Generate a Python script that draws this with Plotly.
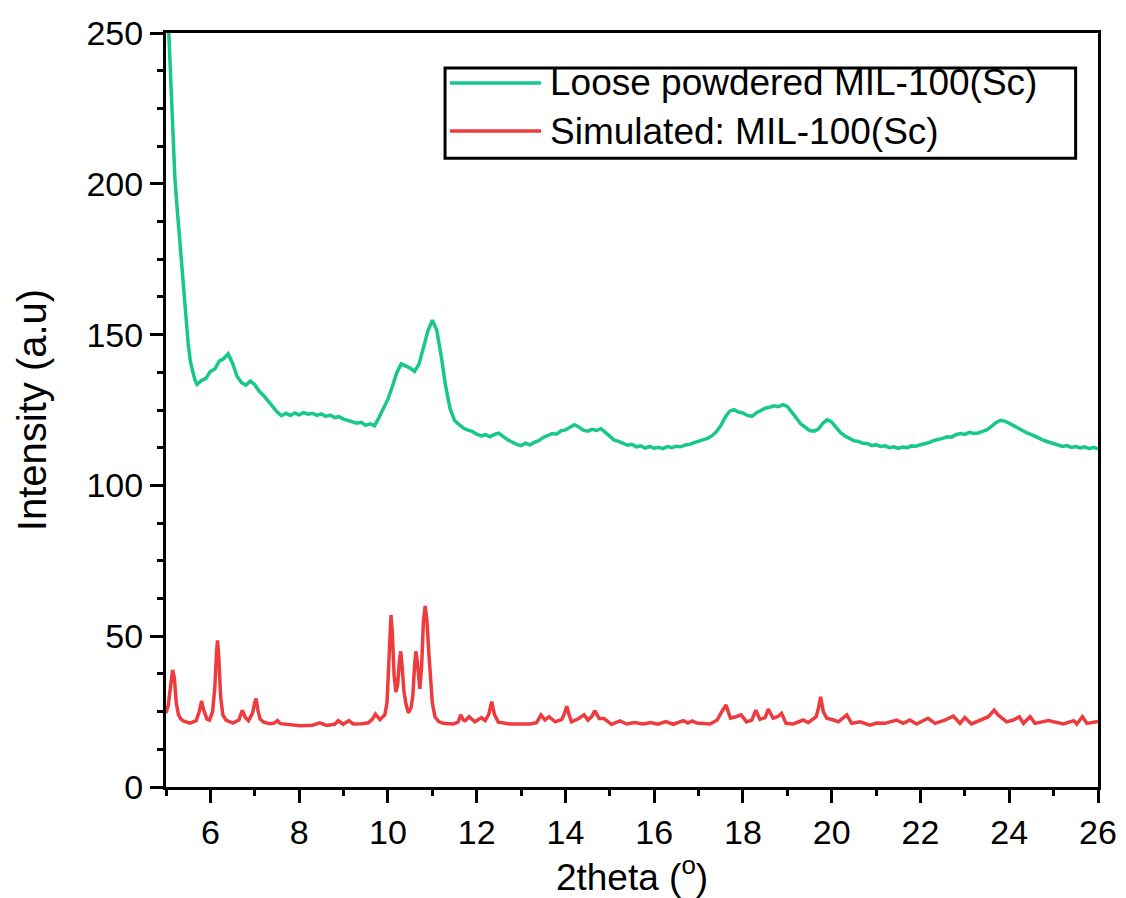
import plotly.graph_objects as go

# ---------------- data ----------------
x_loose = [
    5.0, 5.05, 5.1, 5.15, 5.2, 5.25, 5.3, 5.35, 5.4, 5.45, 5.5, 5.55, 5.6, 5.65, 5.7, 5.8, 5.9,
    6.0, 6.1, 6.2, 6.3, 6.4, 6.5, 6.6, 6.7, 6.8, 6.9,
    7.0, 7.1, 7.2, 7.3, 7.4, 7.5, 7.6, 7.7, 7.8, 7.9,
    8.0, 8.1, 8.2, 8.3, 8.4, 8.5, 8.6, 8.7, 8.8, 8.9,
    9.0, 9.1, 9.2, 9.3, 9.4, 9.5, 9.6, 9.7, 9.8, 9.9,
    10.0, 10.1, 10.2, 10.3, 10.4, 10.5, 10.6, 10.7, 10.8, 10.9,
    11.0, 11.1, 11.2, 11.3, 11.4, 11.5, 11.6, 11.7, 11.8, 11.9,
    12.0, 12.1, 12.2, 12.3, 12.4, 12.5, 12.6, 12.7, 12.8, 12.9,
    13.0, 13.1, 13.2, 13.3, 13.4, 13.5, 13.6, 13.7, 13.8, 13.9,
    14.0, 14.1, 14.2, 14.3, 14.4, 14.5, 14.6, 14.7, 14.8, 14.9,
    15.0, 15.1, 15.2, 15.3, 15.4, 15.5, 15.6, 15.7, 15.8, 15.9,
    16.0, 16.1, 16.2, 16.3, 16.4, 16.5, 16.6, 16.7, 16.8, 16.9,
    17.0, 17.1, 17.2, 17.3, 17.4, 17.5, 17.6, 17.7, 17.8, 17.9,
    18.0, 18.1, 18.2, 18.3, 18.4, 18.5, 18.6, 18.7, 18.8, 18.9,
    19.0, 19.1, 19.2, 19.3, 19.4, 19.5, 19.6, 19.7, 19.8, 19.9,
    20.0, 20.1, 20.2, 20.3, 20.4, 20.5, 20.6, 20.7, 20.8, 20.9,
    21.0, 21.1, 21.2, 21.3, 21.4, 21.5, 21.6, 21.7, 21.8, 21.9,
    22.0, 22.1, 22.2, 22.3, 22.4, 22.5, 22.6, 22.7, 22.8, 22.9,
    23.0, 23.1, 23.2, 23.3, 23.4, 23.5, 23.6, 23.7, 23.8, 23.9,
    24.0, 24.1, 24.2, 24.3, 24.4, 24.5, 24.6, 24.7, 24.8, 24.9,
    25.0, 25.1, 25.2, 25.3, 25.4, 25.5, 25.6, 25.7, 25.8, 25.9,
    26.0,
]
y_loose = [
    272, 255, 238, 218, 202, 192, 183, 174, 165, 155, 147, 141, 137.5, 135.0, 133.5, 134.8, 135.5,
    137.8, 138.6, 141.2, 142.0, 143.6, 140.5, 136.2, 134.1, 133.2, 134.6,
    133.4, 131.2, 129.8, 128.0, 126.2, 124.4, 123.1, 123.9, 123.2, 124.0,
    123.4, 124.1, 123.6, 123.9, 123.2, 123.7, 122.9, 123.3, 122.5, 122.8,
    122.0, 121.6, 121.2, 120.6, 120.9, 119.9, 120.4, 119.8, 122.5, 125.8,
    128.6, 132.8, 137.4, 140.3, 139.6, 138.9, 137.8, 140.2, 145.6, 151.2,
    154.8, 151.5, 143.0, 133.0, 125.5, 121.6, 120.2, 119.0, 118.3, 117.9,
    117.0, 116.4, 116.8, 116.1, 116.9, 117.3, 116.2, 115.1, 114.4, 113.6,
    113.2, 114.0, 113.4, 114.3, 114.8, 115.9, 116.5, 117.2, 117.0, 118.1,
    118.4, 119.2, 120.1, 119.4, 118.3, 118.0, 118.6, 118.2, 118.8, 117.6,
    116.3, 115.0, 114.6, 114.0, 113.3, 113.6, 112.8, 113.1, 112.4, 112.9,
    112.3, 112.6, 112.2, 112.9, 112.5, 113.0, 112.8, 113.4, 113.6, 114.2,
    114.6, 115.0, 115.6, 116.4, 117.8, 119.8, 122.6, 124.6, 125.1, 124.3,
    124.0, 123.2, 122.9, 124.0, 124.8, 125.6, 125.9, 126.4, 126.1, 126.8,
    126.2, 124.5, 122.4, 120.4, 119.2, 118.2, 118.0, 118.7, 120.6, 121.8,
    121.0, 119.2, 117.5, 116.4, 115.6, 114.8, 114.6, 114.0, 113.9, 113.2,
    113.5, 112.9, 113.1, 112.5, 112.8, 112.3, 112.7, 112.5, 113.1, 113.0,
    113.5, 113.8, 114.2, 114.9, 115.2, 115.6, 116.1, 116.0, 116.8, 117.2,
    116.9, 117.6, 117.2, 117.4, 117.9, 118.5, 119.6, 120.8, 121.6, 121.3,
    120.6, 119.8, 118.8, 118.2, 117.4, 116.8, 116.1, 115.3, 114.8, 114.3,
    113.8, 113.5, 112.9, 113.2, 112.6, 112.9, 112.4, 112.8, 112.2, 112.6,
    112.1,
]

x_sim = [
    5.00, 5.05, 5.10, 5.15, 5.19, 5.23, 5.28, 5.33, 5.40, 5.54,
    5.68, 5.75, 5.80, 5.85, 5.92, 5.98, 6.05, 6.10, 6.14, 6.16,
    6.19, 6.23, 6.28, 6.35, 6.51, 6.64, 6.72, 6.79, 6.86, 6.95,
    7.00, 7.03, 7.07, 7.12, 7.20, 7.34, 7.44, 7.51, 7.58, 7.76,
    8.02, 8.30, 8.47, 8.62, 8.80, 8.88, 8.99, 9.12, 9.22, 9.40,
    9.56, 9.65, 9.72, 9.82, 9.93, 9.98, 10.02, 10.05, 10.07, 10.10,
    10.14, 10.18, 10.22, 10.26, 10.29, 10.32, 10.36, 10.40, 10.46, 10.52,
    10.56, 10.60, 10.63, 10.66, 10.70, 10.72, 10.76, 10.80, 10.84, 10.88,
    10.92, 10.96, 11.00, 11.06, 11.15, 11.25, 11.47, 11.58, 11.64, 11.70,
    11.74, 11.83, 11.96, 12.11, 12.19, 12.27, 12.34, 12.40, 12.49, 12.75,
    13.20, 13.35, 13.45, 13.54, 13.63, 13.77, 13.92, 13.98, 14.03, 14.08,
    14.14, 14.30, 14.42, 14.51, 14.60, 14.66, 14.72, 14.76, 14.87, 15.04,
    15.23, 15.38, 15.55, 15.76, 15.92, 16.09, 16.26, 16.43, 16.66, 16.76,
    16.86, 16.96, 17.26, 17.42, 17.52, 17.62, 17.68, 17.72, 17.84, 17.96,
    18.08, 18.20, 18.29, 18.38, 18.50, 18.57, 18.68, 18.78, 18.87, 18.97,
    19.13, 19.36, 19.47, 19.65, 19.70, 19.75, 19.81, 19.89, 20.04, 20.15,
    20.34, 20.45, 20.64, 20.86, 21.01, 21.20, 21.46, 21.61, 21.76, 21.91,
    22.17, 22.33, 22.55, 22.74, 22.89, 23.00, 23.15, 23.34, 23.53, 23.66,
    23.75, 23.94, 24.09, 24.23, 24.32, 24.47, 24.58, 24.88, 25.22, 25.45,
    25.52, 25.65, 25.75, 26.00,
]
y_sim = [
    24.5, 27.0, 33.0, 38.8, 36.0, 28.0, 24.0, 22.6, 21.8, 21.2,
    22.0, 25.0, 28.5, 25.5, 22.6, 22.2, 25.0, 33.0, 45.0, 48.6,
    43.0, 30.0, 24.0, 22.2, 21.2, 22.2, 25.4, 23.0, 22.0, 24.5,
    28.0, 29.3, 25.5, 22.5, 21.5, 21.0, 21.2, 22.0, 21.0, 20.8,
    20.3, 20.5, 21.3, 20.4, 20.8, 22.0, 20.8, 22.0, 20.9, 21.0,
    21.3, 22.5, 24.2, 22.3, 23.9, 28.0, 42.0, 54.0, 57.0, 51.0,
    37.0, 31.5, 34.0, 42.0, 45.0, 40.0, 32.0, 28.0, 24.6, 26.2,
    30.0, 40.0, 45.0, 42.0, 34.0, 32.5, 40.0, 55.0, 60.0, 55.0,
    45.0, 36.0, 28.0, 23.3, 21.6, 21.1, 20.9, 21.5, 23.9, 22.2,
    22.0, 23.3, 21.6, 23.0, 22.0, 24.0, 28.3, 24.0, 21.5, 20.9,
    20.9, 21.3, 23.9, 22.2, 23.3, 21.6, 22.4, 24.5, 26.8, 24.0,
    21.6, 22.7, 23.9, 22.2, 23.5, 25.3, 23.5, 22.7, 22.7, 20.8,
    21.9, 20.9, 21.4, 20.9, 21.4, 20.8, 21.7, 20.8, 22.0, 21.2,
    21.9, 21.2, 20.9, 22.2, 24.9, 27.2, 24.5, 22.8, 23.3, 23.9,
    21.6, 22.2, 25.5, 22.4, 23.0, 25.8, 22.8, 23.3, 24.4, 21.1,
    20.9, 22.2, 21.3, 23.3, 26.0, 29.9, 25.0, 22.8, 22.2, 21.6,
    23.9, 21.1, 21.6, 20.5, 21.2, 21.1, 22.2, 21.1, 22.2, 20.9,
    22.8, 21.1, 22.2, 23.5, 21.1, 23.0, 20.9, 22.2, 23.3, 25.5,
    23.9, 21.6, 22.2, 23.3, 21.1, 23.3, 21.1, 22.0, 20.9, 22.0,
    20.9, 23.3, 21.1, 21.7,
]

series_names = ["Loose powdered MIL-100(Sc)", "Simulated: MIL-100(Sc)"]
series_colors = ["#17C78D", "#EE3B3E"]

FONT = "Liberation Sans, Arial, sans-serif"

fig = go.Figure()
fig.add_trace(go.Scatter(x=x_loose, y=y_loose, mode="lines", name=series_names[0],
                         line=dict(color=series_colors[0], width=3.5), showlegend=False))
fig.add_trace(go.Scatter(x=x_sim, y=y_sim, mode="lines", name=series_names[1],
                         line=dict(color=series_colors[1], width=3.5), showlegend=False))

axis_common = dict(
    showline=True, linecolor="black", linewidth=3, mirror=True,
    ticks="outside", ticklen=13, tickwidth=3, tickcolor="black",
    showgrid=False, zeroline=False, automargin=False,
    tickfont=dict(family=FONT, size=34, color="black"),
)

fig.update_xaxes(
    range=[5, 26], tick0=6, dtick=2,
    minor=dict(ticks="outside", dtick=1, tick0=5, ticklen=6, tickwidth=3, tickcolor="black"),
    title=dict(text="2theta (<sup>o</sup>)", font=dict(family=FONT, size=37, color="black"), standoff=16),
    **axis_common,
)
fig.update_yaxes(
    range=[0, 250], tick0=0, dtick=50,
    minor=dict(ticks="outside", dtick=12.5, tick0=0, ticklen=6, tickwidth=3, tickcolor="black"),
    title=dict(text="Intensity (a.u)", font=dict(family=FONT, size=40, color="black"), standoff=28),
    **axis_common,
)

# legend box drawn in paper coordinates
lx0, lx1, ly0, ly1 = 0.2994, 0.976, 0.834, 0.9536
fig.add_shape(type="rect", xref="paper", yref="paper", x0=lx0, x1=lx1, y0=ly0, y1=ly1,
              line=dict(color="black", width=3), fillcolor="white", layer="above")
legend_rows_y = [0.9337, 0.870]
for name, color, yy in zip(series_names, series_colors, legend_rows_y):
    fig.add_shape(type="line", xref="paper", yref="paper", x0=0.3047, x1=0.4024, y0=yy, y1=yy,
                  line=dict(color=color, width=3.5), layer="above")
    fig.add_annotation(xref="paper", yref="paper", x=0.41, y=yy, text=name, showarrow=False,
                       xanchor="left", yanchor="middle",
                       font=dict(family=FONT, size=37, color="black"))

fig.update_layout(
    width=1126, height=898,
    margin=dict(l=166, r=28, t=33, b=111),
    paper_bgcolor="white", plot_bgcolor="white",
    font=dict(family=FONT, color="black"),
)

fig.write_html("out.html")
